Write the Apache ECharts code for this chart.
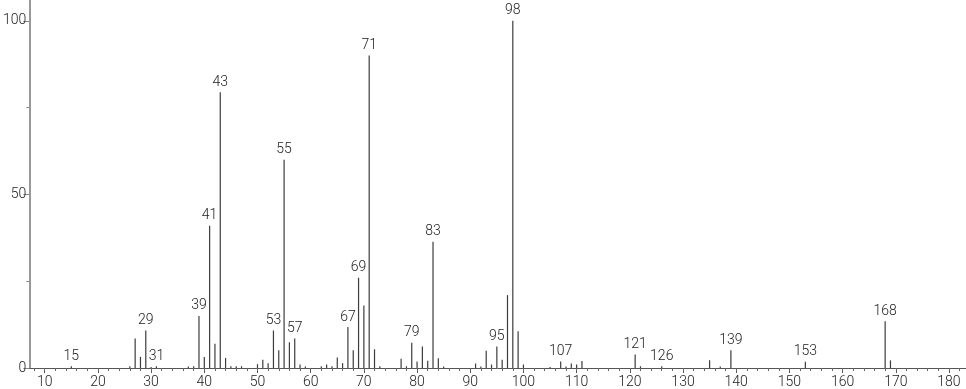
<!DOCTYPE html>
<html>
<head>
<meta charset="utf-8">
<script src="https://cdn.jsdelivr.net/npm/echarts@6/dist/echarts.min.js"></script>
<style>
html,body{margin:0;padding:0;background:#fff;}
#chart{width:966px;height:389px;}
</style>
</head>
<body>
<div id="chart"></div>
<script>
// m/z values and relative intensities
const mz = [15, 26, 27, 28, 29, 30, 31, 37, 38, 39, 40, 41, 42, 43, 44, 45, 46, 47,
  50, 51, 52, 53, 54, 55, 56, 57, 58, 59, 62, 63, 64, 65, 66, 67, 68, 69, 70, 71, 72, 73,
  77, 78, 79, 80, 81, 82, 83, 84, 85, 91, 92, 93, 94, 95, 96, 97, 98, 99, 100,
  105, 107, 108, 109, 110, 111, 121, 122, 126, 135, 137, 139, 153, 168, 169];
const intensity = [0.5, 0.5, 8.5, 3.2, 10.8, 0.3, 0.5, 0.4, 0.5, 15.0, 3.2, 41.0, 7.0, 79.4, 2.9, 0.5, 0.5, 0.5,
  1.1, 2.4, 1.4, 10.8, 5.1, 60.0, 7.4, 8.5, 1.0, 0.4, 0.5, 1.0, 0.5, 3.0, 1.4, 11.8, 5.1, 26.0, 18.0, 90.0, 5.4, 0.5,
  2.7, 0.5, 7.3, 1.9, 6.2, 2.1, 36.4, 2.8, 0.4, 1.3, 0.4, 5.0, 1.0, 6.2, 2.4, 21.0, 100.0, 10.6, 1.0,
  0.3, 1.9, 0.4, 1.3, 1.0, 2.0, 3.9, 0.5, 0.5, 2.2, 0.4, 5.1, 1.8, 13.5, 2.2];
const labeledPeaks = [15, 29, 31, 39, 41, 43, 53, 55, 57, 67, 69, 71, 79, 83, 95, 98, 107, 121, 126, 139, 153, 168];
const xTickLabels = [10, 20, 30, 40, 50, 60, 70, 80, 90, 100, 110, 120, 130, 140, 150, 160, 170, 180];
const xMinorTicks = [];
for (let v = 8; v <= 182; v += 2) xMinorTicks.push(v);
const yTickLabels = [0, 50, 100];
const yMinorTicks = [25, 75];

const FONT = 'Roboto';
const X_MIN = 7.1, X_MAX = 183.2;
const chart = echarts.init(document.getElementById('chart'), null, {renderer: 'canvas'});

const data = mz.map((m, i) => {
  const item = {value: [m, intensity[i]]};
  if (labeledPeaks.includes(m)) {
    item.label = {show: true};
  }
  return item;
});

chart.setOption({
  animation: false,
  backgroundColor: '#fff',
  grid: {left: 29, right: 0, top: 0, bottom: 21, containLabel: false},
  xAxis: [{
    type: 'value', min: X_MIN, max: X_MAX,
    axisLine: {show: true, lineStyle: {color: '#555', width: 1}},
    axisTick: {show: true, length: 5, customValues: xTickLabels, lineStyle: {color: '#555'}},
    axisLabel: {show: true, customValues: xTickLabels, margin: 7, fontFamily: FONT, fontWeight: 300,
      fontSize: 14, color: '#222'},
    splitLine: {show: false}
  }, {
    type: 'value', min: X_MIN, max: X_MAX, position: 'bottom',
    axisLine: {show: false},
    axisTick: {show: true, length: 3, customValues: xMinorTicks, lineStyle: {color: '#666'}},
    axisLabel: {show: false},
    splitLine: {show: false}
  }],
  yAxis: [{
    type: 'value', min: 0, max: 106,
    axisLine: {show: true, lineStyle: {color: '#999', width: 2}},
    axisTick: {show: true, length: 6, customValues: yTickLabels, lineStyle: {color: '#888'}},
    axisLabel: {show: true, customValues: yTickLabels, margin: 3, fontFamily: FONT, fontWeight: 300,
      fontSize: 14, color: '#222'},
    splitLine: {show: false}
  }, {
    type: 'value', min: 0, max: 106, position: 'left',
    axisLine: {show: false},
    axisTick: {show: true, length: 3, customValues: yMinorTicks, lineStyle: {color: '#888'}},
    axisLabel: {show: false},
    splitLine: {show: false}
  }],
  series: [{
    type: 'bar',
    xAxisIndex: 0, yAxisIndex: 0,
    barWidth: 1.2,
    itemStyle: {color: '#3c3c3c'},
    label: {
      show: false, position: 'top', distance: 3,
      formatter: p => String(p.value[0]),
      fontFamily: FONT, fontWeight: 300, fontSize: 14, color: '#222'
    },
    data: data
  }]
});
</script>
</body>
</html>
